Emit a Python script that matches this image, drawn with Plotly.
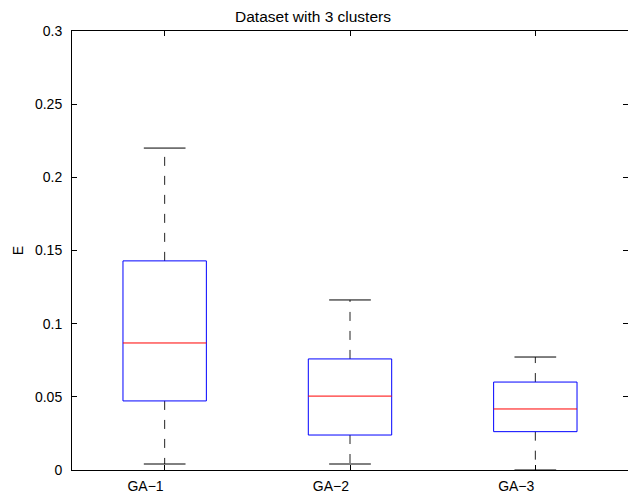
import plotly.graph_objects as go

categories = ["GA\u22121", "GA\u22122", "GA\u22123"]
lower_whisker = [0.0041, 0.0041, 0.0]
q1 = [0.0472, 0.0239, 0.0262]
median = [0.0868, 0.0505, 0.0417]
q3 = [0.1429, 0.0759, 0.0601]
upper_whisker = [0.2200, 0.1162, 0.0772]

y_ticks = [0, 0.05, 0.1, 0.15, 0.2, 0.25, 0.3]
y_tick_labels = ["0", "0.05", "0.1", "0.15", "0.2", "0.25", "0.3"]

BOX_HALF = 0.225
CAP_HALF = 0.1125

fig = go.Figure()
for i, cat in enumerate(categories):
    x = i + 1
    fig.add_trace(go.Scatter(
        x=[x, x, None, x, x],
        y=[q3[i], upper_whisker[i], None, q1[i], lower_whisker[i]],
        mode="lines", line=dict(color="#222222", width=1, dash="9px,10px"),
        hoverinfo="skip", showlegend=False))
    fig.add_trace(go.Scatter(
        x=[x - CAP_HALF, x + CAP_HALF, None, x - CAP_HALF, x + CAP_HALF],
        y=[upper_whisker[i], upper_whisker[i], None, lower_whisker[i], lower_whisker[i]],
        mode="lines", line=dict(color="black", width=1),
        hoverinfo="skip", showlegend=False))
    fig.add_trace(go.Scatter(
        x=[x - BOX_HALF, x + BOX_HALF, x + BOX_HALF, x - BOX_HALF, x - BOX_HALF],
        y=[q1[i], q1[i], q3[i], q3[i], q1[i]],
        mode="lines", line=dict(color="#0000ff", width=1),
        hoverinfo="skip", showlegend=False))
    fig.add_trace(go.Scatter(
        x=[x - BOX_HALF, x + BOX_HALF],
        y=[median[i], median[i]],
        mode="lines", line=dict(color="#ff0000", width=1),
        hoverinfo="skip", showlegend=False))

# The page body adds an 8px offset; the figure is sized to fit the window.
font_family = "Liberation Sans, Arial, sans-serif"
fig.update_layout(
    width=628, height=485,
    margin=dict(l=64, r=8, t=23, b=23, autoexpand=False),
    paper_bgcolor="white", plot_bgcolor="white",
    title=dict(text="Dataset with 3 clusters", x=305 / 628, xanchor="center",
               xref="container", y=1 - 3 / 485, yanchor="top", yref="container",
               pad=dict(t=0, b=0, l=0, r=0),
               font=dict(family=font_family, size=15.5, color="black")),
    font=dict(family=font_family, size=14, color="black"),
    xaxis=dict(range=[0.5, 3.5], tickvals=[1, 2, 3], ticktext=categories,
               ticks="inside", ticklen=5, tickcolor="black", mirror="ticks",
               showline=True, linecolor="black", linewidth=1, showgrid=False,
               zeroline=False, tickfont=dict(size=14), ticklabelstandoff=3,
               ticklabelposition="outside left", automargin=False),
    yaxis=dict(range=[0, 0.3], tickvals=y_ticks, ticktext=y_tick_labels,
               ticks="inside", ticklen=5, tickcolor="black", mirror="ticks",
               showline=True, linecolor="black", linewidth=1, showgrid=False,
               zeroline=False, tickfont=dict(size=14), ticklabelstandoff=6,
               automargin=False,
               title=dict(text="E", font=dict(size=14), standoff=8)),
)

fig.write_html("out.html")
